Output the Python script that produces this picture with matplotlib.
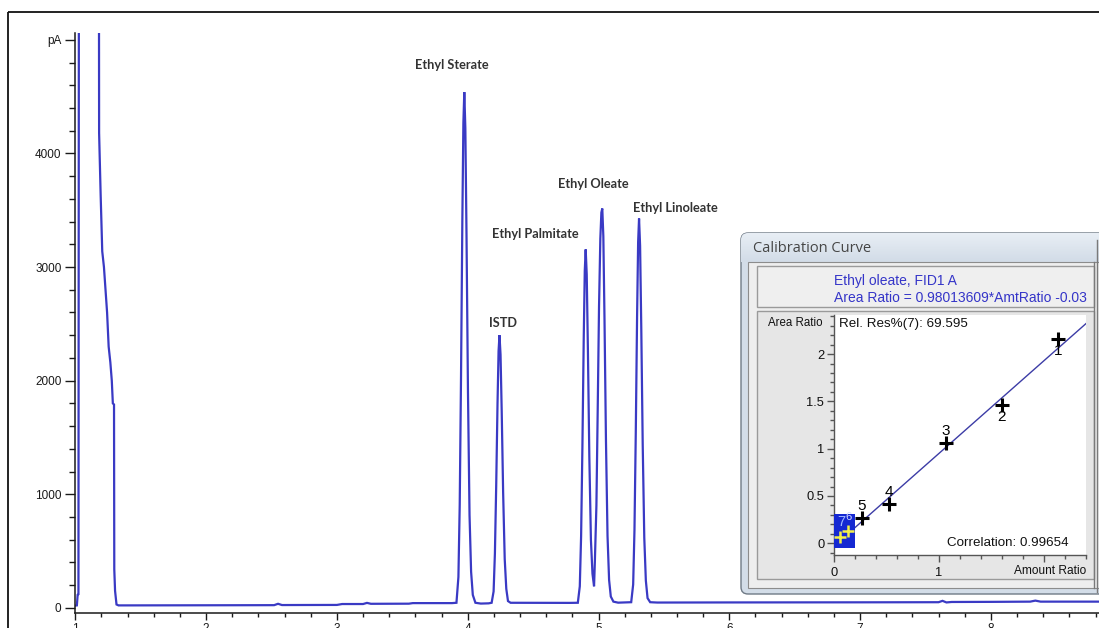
import numpy as np
import matplotlib
matplotlib.use("Agg")
import matplotlib.pyplot as plt
from matplotlib.patches import Rectangle, FancyBboxPatch
from matplotlib.ticker import MultipleLocator, FixedLocator, FuncFormatter

# 1) Chromatogram, FID1 A  (time in min, signal in pA)
# ===================================================================
solvent_t = [1.000, 1.012, 1.018, 1.024, 1.028, 1.180, 1.182, 1.194, 1.206, 1.219,
             1.243, 1.255, 1.268, 1.279, 1.287, 1.296, 1.298, 1.304, 1.315, 1.330]
solvent_pa = [20, 22, 115, 120, 6500, 6500, 4180, 3626, 3138, 3000,
              2600, 2300, 2160, 2000, 1800, 1790, 340, 150, 30, 22]

base1_t = [1.40, 2.00, 2.52, 2.55, 2.58, 3.00, 3.04, 3.20, 3.23, 3.26, 3.55, 3.58, 3.88]
base1_pa = [22, 23, 24, 36, 25, 26, 34, 34, 44, 36, 37, 42, 42]

sterate_t = [3.914, 3.929, 3.939, 3.949, 3.959, 3.967, 3.974, 3.982, 3.991, 4.002,
             4.014, 4.026, 4.039, 4.059, 4.100]
sterate_pa = [45, 272, 908, 2043, 3405, 4268, 4540, 4222, 3269, 1907,
              817, 318, 114, 45, 38]

istd_t = [4.160, 4.183, 4.198, 4.208, 4.218, 4.228, 4.236, 4.243, 4.251, 4.260,
          4.271, 4.283, 4.295, 4.308, 4.328]
istd_pa = [40, 45, 145, 480, 1080, 1800, 2260, 2400, 2230, 1730,
           1010, 430, 168, 60, 45]

palmitate_t = [4.780, 4.842, 4.857, 4.867, 4.877, 4.887, 4.895, 4.902, 4.910, 4.919,
               4.930, 4.942, 4.954, 4.966]
palmitate_pa = [44, 45, 190, 631, 1420, 2366, 2966, 3155, 2934, 2272,
                1325, 600, 300, 190]

oleate_t = [4.972, 4.984, 4.994, 5.004, 5.014, 5.022, 5.029, 5.037, 5.046, 5.057,
            5.069, 5.081, 5.094, 5.114, 5.150]
oleate_pa = [400, 900, 1750, 2650, 3250, 3480, 3515, 3270, 2530, 1476,
             633, 246, 100, 55, 46]

linoleate_t = [5.250, 5.265, 5.275, 5.285, 5.295, 5.303, 5.310, 5.318, 5.327, 5.338,
               5.350, 5.362, 5.375, 5.395, 5.450]
linoleate_pa = [50, 206, 685, 1542, 2570, 3221, 3427, 3187, 2467, 1439,
                617, 240, 86, 50, 47]

base2_t = [6.00, 7.00, 7.60, 7.63, 7.66, 7.70, 8.00, 8.30, 8.34, 8.38, 9.00]
base2_pa = [48, 49, 50, 62, 48, 52, 53, 55, 64, 55, 55]

peak_names = ["Ethyl Sterate", "ISTD", "Ethyl Palmitate", "Ethyl Oleate", "Ethyl Linoleate"]
label_t = [3.880, 4.270, 4.515, 4.958, 5.585]
label_pa = [4776, 2507, 3289, 3729, 3518]

# 2) Calibration curve, Ethyl oleate
# ===================================================================
cal_level = ["1", "2", "3", "4", "5", "6", "7"]
cal_amt = [2.133, 1.597, 1.064, 0.527, 0.264, 0.136, 0.060]
cal_area = [2.160, 1.462, 1.057, 0.412, 0.264, 0.133, 0.063]
cal_slope = 0.98013609
cal_offset = -0.03
correlation = 0.99654
rel_res = 69.595

# 3) Plot
# ===================================================================
W, H = 1099, 628
fig = plt.figure(figsize=(W / 100, H / 100), dpi=100)
fig.patch.set_facecolor("white")

def fx(px):
    return px / W

def fy(py):
    return 1 - py / H

trace_t = np.concatenate([solvent_t, base1_t, sterate_t, istd_t, palmitate_t,
                          oleate_t, linoleate_t, base2_t])
trace_pa = np.concatenate([solvent_pa, base1_pa, sterate_pa, istd_pa, palmitate_pa,
                           oleate_pa, linoleate_pa, base2_pa])

tick_col = "#1a1a1a"
ax = fig.add_axes([fx(75.3), fy(613), fx(1121.7 - 75.3), (613 - 33) / H])
ax.plot(trace_t, trace_pa, color="#3a3ac4", lw=1.6, solid_joinstyle="miter")
ax.set_xlim(1.0, 9.0)
ax.set_ylim(-45, 5060)
for s in ["top", "right"]:
    ax.spines[s].set_visible(False)
for s in ["left", "bottom"]:
    ax.spines[s].set_color(tick_col)
    ax.spines[s].set_linewidth(1.1)

ax.xaxis.set_major_locator(MultipleLocator(1))
ax.xaxis.set_minor_locator(MultipleLocator(0.2))
ax.yaxis.set_major_locator(FixedLocator([0, 1000, 2000, 3000, 4000, 5000]))
ax.yaxis.set_minor_locator(MultipleLocator(200))
ax.set_yticklabels(["0", "1000", "2000", "3000", "4000", "pA"])
ax.tick_params(axis="x", which="major", length=5, width=1, pad=2, colors=tick_col,
               labelsize=8.5)
ax.tick_params(axis="x", which="minor", length=3, width=1, colors=tick_col)
ax.tick_params(axis="y", which="major", length=7, width=1, pad=3, colors=tick_col,
               labelsize=8.5)
ax.tick_params(axis="y", which="minor", length=4, width=1, colors=tick_col)
for lab in ax.get_xticklabels() + ax.get_yticklabels():
    lab.set_fontfamily("Liberation Sans")

for name, t, pa in zip(peak_names, label_t, label_pa):
    ax.text(t, pa, name, ha="center", va="center", fontsize=9.2,
            fontfamily="Lato", fontweight="bold", color="#333333")

# Overlay in pixel units for the frame and the dialog window
ui = fig.add_axes([0, 0, 1, 1], zorder=2)
ui.axis("off")

ui.add_patch(Rectangle((8, 12), 1300, 800, fill=False, ec="#111111", lw=1.3))

window = FancyBboxPatch((741, 233), 380, 361, boxstyle="round,pad=0,rounding_size=7",
                        fc="#d3dde8", ec="#6f7a86", lw=1.0)
ui.add_patch(window)
grad = np.linspace(0, 1, 40).reshape(-1, 1)
img = ui.imshow(grad, extent=[741, 1121, 262, 233], cmap=matplotlib.colors.LinearSegmentedColormap.from_list(
    "bar", ["#e8eef5", "#d2dce7"]), aspect="auto", zorder=1.5)
img.set_clip_path(window)
ui.set_xlim(0, W)
ui.set_ylim(H, 0)

ui.add_patch(Rectangle((748, 262), 360, 326, fc="#eeeeee", ec="#8c8c8c", lw=0.8, zorder=2))
ui.text(753, 249, "Calibration Curve", ha="left", va="center", fontsize=10.5,
        fontfamily="Open Sans", color="#454545", zorder=3)

header = Rectangle((757, 266), 337, 41, fc="#efefef", ec="#9a9a9a", lw=1.0, zorder=2)
ui.add_patch(header)
plot_panel = Rectangle((757, 311), 337, 268, fc="#e6e6e6", ec="#9a9a9a", lw=1.0, zorder=2)
ui.add_patch(plot_panel)
ui.plot([1094, 1094], [262, 588], color="#7a7a7a", lw=1.0, zorder=3)
ui.plot([1097, 1097], [240, 592], color="#7a7a7a", lw=1.0, zorder=3)

eq_col = "#3535c8"
t1 = ui.text(834, 281, "Ethyl oleate, FID1 A", ha="left", va="center",
             fontsize=10, fontfamily="Liberation Sans", color=eq_col, zorder=3)
t2 = ui.text(834, 298, f"Area Ratio = {cal_slope:.8f}*AmtRatio {cal_offset:.2f}",
             ha="left", va="center", fontsize=10, fontfamily="Liberation Sans",
             color=eq_col, zorder=3)
for t in (t1, t2):
    t.set_clip_path(header)
ui.text(795, 323, "Area Ratio", ha="center", va="center", fontsize=8.3,
        fontfamily="Liberation Sans", color="#111111", zorder=3)

# Calibration plot
cax = fig.add_axes([fx(834), fy(555), fx(252), 240 / H], zorder=3)
cax.set_facecolor("white")
cax.set_xlim(0, 2.4)
cax.set_ylim(-0.124, 2.413)
for s in ["top", "right"]:
    cax.spines[s].set_visible(False)
for s in ["left", "bottom"]:
    cax.spines[s].set_color("#555555")
    cax.spines[s].set_linewidth(1.0)

fit_x = np.array([0.0, 2.4])
cax.plot(fit_x, cal_slope * fit_x + cal_offset, color="#3c3ca6", lw=1.0, zorder=2)
cax.add_patch(Rectangle((0, -0.053), 0.2, 0.36, fc="#1428d2", ec="none", zorder=3))

cax.plot(cal_amt[:5], cal_area[:5], ls="none", marker="+", ms=10, mew=2.2,
         color="black", zorder=4)
cax.plot(cal_amt[5:], cal_area[5:], ls="none", marker="+", ms=9, mew=1.8,
         color="#f2f04a", zorder=4)
label_dy = [-9, -9, 9, 9, 9]
for lev, a, r, dy in zip(cal_level[:5], cal_amt, cal_area, label_dy):
    cax.annotate(lev, (a, r), xytext=(0, dy), textcoords="offset points",
                 ha="center", va="center", fontsize=11,
                 fontfamily="Liberation Sans", color="black", zorder=5)
cax.annotate(cal_level[6], (cal_amt[6], cal_area[6]), xytext=(0.5, 11),
             textcoords="offset points", ha="center", va="center", fontsize=10.5,
             fontfamily="Liberation Sans", color="#9fb6ff", zorder=5)
cax.annotate(cal_level[5], (cal_amt[5], cal_area[5]), xytext=(0, 10),
             textcoords="offset points", ha="center", va="center", fontsize=8,
             fontfamily="Liberation Sans", color="#d6dcff", zorder=5)

cax.text(0.02, 0.962, f"Rel. Res%(7): {rel_res:.3f}", transform=cax.transAxes,
         ha="left", va="center", fontsize=9.6, fontfamily="Liberation Sans",
         color="#111111")
cax.text(0.93, 0.05, f"Correlation: {correlation:.5f}", transform=cax.transAxes,
         ha="right", va="center", fontsize=9.6, fontfamily="Liberation Sans",
         color="#111111")
cax.text(1.0, -0.065, "Amount Ratio", transform=cax.transAxes, ha="right",
         va="center", fontsize=8.6, fontfamily="Liberation Sans", color="#111111")

cax.xaxis.set_major_locator(MultipleLocator(1))
cax.xaxis.set_minor_locator(MultipleLocator(0.2))
cax.xaxis.set_major_formatter(FuncFormatter(lambda v, p: "" if v > 1.5 else f"{v:g}"))
cax.yaxis.set_major_locator(MultipleLocator(0.5))
cax.yaxis.set_minor_locator(MultipleLocator(0.1))
cax.yaxis.set_major_formatter(FuncFormatter(lambda v, p: f"{v:g}"))
cax.tick_params(axis="both", which="major", length=5, width=1, colors="#555555",
                labelcolor="#111111", labelsize=9.3)
cax.tick_params(axis="both", which="minor", length=3, width=1, colors="#555555")
cax.tick_params(axis="x", which="major", pad=4)
cax.tick_params(axis="y", which="major", pad=2)
for lab in cax.get_xticklabels() + cax.get_yticklabels():
    lab.set_fontfamily("Liberation Sans")

fig.savefig("out.png", dpi=100)
